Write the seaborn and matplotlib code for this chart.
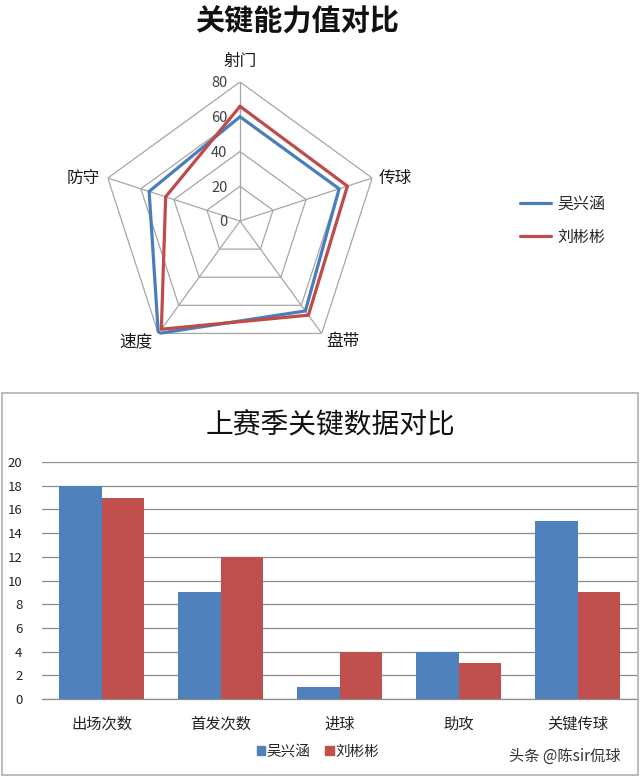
import numpy as np
import pandas as pd
import matplotlib
matplotlib.use("Agg")
import matplotlib.pyplot as plt
import matplotlib.patches as mpatches
from matplotlib.lines import Line2D
import seaborn as sns

# ---------------- data ----------------
players = ["吴兴涵", "刘彬彬"]
radar_attrs = ["射门", "传球", "盘带", "速度", "防守"]
radar_wu = [60, 60, 64, 80, 55]
radar_liu = [66, 65, 67, 77, 45]
radar_ticks = [0, 20, 40, 60, 80]

bar_cats = ["出场次数", "首发次数", "进球", "助攻", "关键传球"]
bar_wu = [18, 9, 1, 4, 15]
bar_liu = [17, 12, 4, 3, 9]
bar_yticks = [0, 2, 4, 6, 8, 10, 12, 14, 16, 18, 20]

blue = "#4F81BD"
red = "#C0504D"
line_blue = "#4A7EBB"
line_red = "#BE4B48"

sns.set_style("white")
plt.rcParams["font.family"] = ["Noto Sans CJK SC", "DejaVu Sans"]

W, H = 640, 779
fig = plt.figure(figsize=(W / 100, H / 100), dpi=100)

def fx(x): return x / W
def fy(y): return 1 - y / H

# ---------------- radar ----------------
cx, cy, R = 240, 221, 139
axr = fig.add_axes([fx(cx - R), fy(cy + R), 2 * R / W, 2 * R / H], projection="polar")
axr.set_theta_offset(np.pi / 2)
axr.set_theta_direction(-1)
axr.set_ylim(0, 80)
axr.grid(False)
axr.spines["polar"].set_visible(False)
axr.set_xticks([])
axr.set_yticks([])
axr.patch.set_alpha(0)

n = len(radar_attrs)
angles = np.linspace(0, 2 * np.pi, n, endpoint=False)
closed = np.concatenate([angles, angles[:1]])
gridc = "#A6A6A6"
for lv in radar_ticks[1:]:
    axr.plot(closed, [lv] * (n + 1), color=gridc, lw=0.9, zorder=1)
for a in angles:
    axr.plot([a, a], [0, 80], color=gridc, lw=0.9, zorder=1)

axr.plot(closed, radar_wu + radar_wu[:1], color=line_blue, lw=2.3, zorder=3)
axr.plot(closed, radar_liu + radar_liu[:1], color=line_red, lw=2.3, zorder=4)

for lv in radar_ticks:
    axr.annotate(str(lv), xy=(0, lv), xytext=(-9, -1), textcoords="offset points",
                 ha="right", va="center", fontsize=10.5, color="#404040",
                 annotation_clip=False)

label_offsets = [(0, 15), (17, 0), (15, -6), (-16, -6), (-18, 0)]
for a, lab, off in zip(angles, radar_attrs, label_offsets):
    axr.annotate(lab, xy=(a, 80), xytext=off, textcoords="offset points",
                 ha="center", va="center", fontsize=12, color="#1a1a1a",
                 annotation_clip=False)

fig.text(fx(297), fy(22), "关键能力值对比", ha="center", va="center",
         fontsize=21, fontweight="bold", color="#111111")

handles = [Line2D([0], [0], color=line_blue, lw=2.3),
           Line2D([0], [0], color=line_red, lw=2.3)]
fig.legend(handles, players, loc="center left",
           bbox_to_anchor=(fx(506), fy(221)), frameon=False, fontsize=11.5,
           handlelength=1.9, handletextpad=0.4, labelspacing=1.0)

# ---------------- bar chart ----------------
fig.add_artist(mpatches.Rectangle((fx(2), fy(775)), fx(638) - fx(2), fy(393) - fy(775),
                                  transform=fig.transFigure, fill=False,
                                  edgecolor="#B0B0B0", lw=1.2))

df = pd.DataFrame({
    "cat": bar_cats * 2,
    "player": [players[0]] * len(bar_cats) + [players[1]] * len(bar_cats),
    "value": bar_wu + bar_liu,
})

axb = fig.add_axes([fx(42), fy(699), (637 - 42) / W, (699 - 462) / H])
sns.barplot(data=df, x="cat", y="value", hue="player", palette=[blue, red],
            width=0.72, gap=0, ax=axb, legend=False, saturation=1, zorder=3,
            linewidth=0, edgecolor="none")
axb.set_xlim(-0.5, 4.5)
axb.set_ylim(0, 20)
axb.set_yticks(bar_yticks)
axb.set_yticklabels([str(v) for v in bar_yticks], fontsize=9.5, color="#222222")
axb.set_xticks(range(len(bar_cats)))
axb.set_xticklabels(bar_cats, fontsize=11, color="#222222")
axb.tick_params(axis="both", length=0)
axb.tick_params(axis="x", pad=12)
axb.tick_params(axis="y", pad=14)
axb.set_xlabel("")
axb.set_ylabel("")
axb.yaxis.grid(True, color="#8C8C8C", lw=0.9)
axb.set_axisbelow(True)
for s in ["left", "right", "top"]:
    axb.spines[s].set_visible(False)
axb.spines["bottom"].set_color("#8C8C8C")
axb.spines["bottom"].set_linewidth(0.9)

fig.text(fx(330), fy(425), "上赛季关键数据对比", ha="center", va="center",
         fontsize=20, color="#111111")

bh = [mpatches.Patch(color=blue), mpatches.Patch(color=red)]
fig.legend(bh, players, loc="center", bbox_to_anchor=(fx(318), fy(752)), ncol=2,
           frameon=False, fontsize=10.5, handlelength=0.6, handleheight=0.6,
           handletextpad=0.1, columnspacing=1.0)

fig.text(fx(565), fy(756), "头条 @陈sir侃球", ha="center", va="center",
         fontsize=11, color="#333333")

fig.savefig("out.png", dpi=100)
